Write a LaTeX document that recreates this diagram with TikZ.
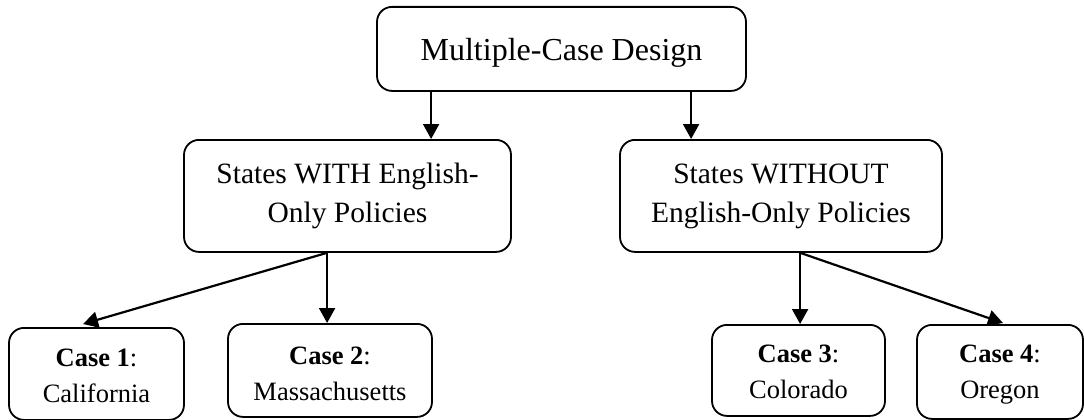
\documentclass[tikz,border=0pt]{standalone}
\usepackage{fontspec}
\setmainfont{Liberation Serif}
\usetikzlibrary{arrows.meta}

\tikzset{
  box/.style={draw=black, line width=1.8pt, rounded corners=15pt,
    inner xsep=0pt, inner ysep=0pt, align=center, anchor=north},
  link/.style={line width=2.2pt, -{Triangle[length=15pt 0,width=16pt 0]}},
}

\begin{document}
\begin{tikzpicture}[x=1pt,y=-1pt]
\useasboundingbox (0,0) rectangle (1084,420);

% root
\node[box, minimum width=369pt, text height=54pt, text depth=30pt,
      font=\fontsize{32}{38}\selectfont] (root) at (561.5,6) {Multiple-Case Design};

% second level (text height is measured to the last baseline)
\node[box, minimum width=327pt, text height=83pt, text depth=29pt,
      font=\fontsize{29.5}{39}\selectfont] (with) at (347.5,139)
      {States WITH English-\\Only Policies};
\node[box, minimum width=322pt, text height=83pt, text depth=29pt,
      font=\fontsize{29.5}{39}\selectfont] (without) at (781,139)
      {States WITHOUT\\English-Only Policies};

% cases
\tikzset{case/.style={box, font=\fontsize{26.5}{36}\selectfont}}
\node[case, minimum width=175pt, text height=75pt, text depth=17pt] (c1) at (96.5,327)
      {\textbf{Case 1}:\\California};
\node[case, minimum width=204pt, text height=77pt, text depth=16pt] (c2) at (330,323)
      {\textbf{Case 2}:\\Massachusetts};
\node[case, minimum width=173pt, text height=74pt, text depth=17pt] (c3) at (798.5,324)
      {\textbf{Case 3}:\\Colorado};
\node[case, minimum width=166pt, text height=74pt, text depth=20pt] (c4) at (1000,324)
      {\textbf{Case 4}:\\Oregon};

% root to second level
\coordinate (r1) at ([xshift=55pt]root.south west);
\coordinate (r2) at ([xshift=315pt]root.south west);
\draw[link] (r1) -- (r1 |- with.north);
\draw[link] (r2) -- (r2 |- without.north);

% second level to cases
\coordinate (w0) at ([xshift=144pt]with.south west);
\coordinate (v0) at ([xshift=181pt]without.south west);
\coordinate (t1) at ([xshift=-13.5pt,yshift=3pt]c1.north);
\coordinate (t4) at ([xshift=3pt,yshift=1pt]c4.north);
\draw[link] (w0) -- (t1);
\draw[link] (w0) -- (w0 |- c2.north);
\draw[link] (v0) -- (v0 |- c3.north);
\draw[link] (v0) -- (t4);
\end{tikzpicture}
\end{document}
